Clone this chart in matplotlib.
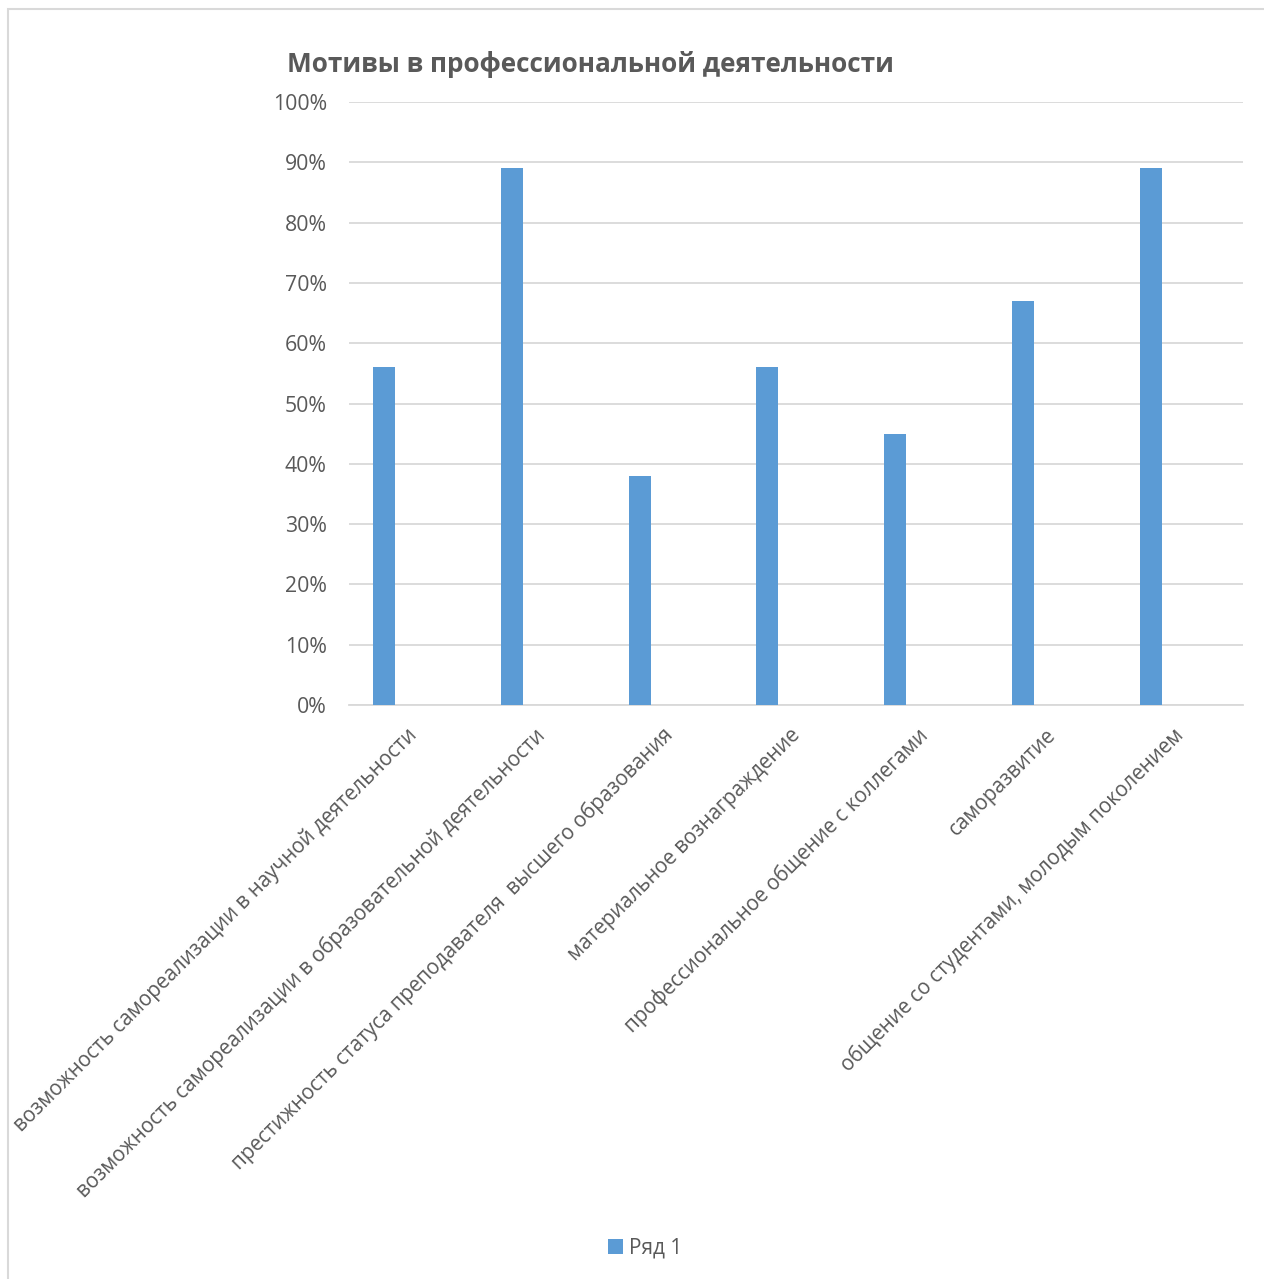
import numpy as np
import matplotlib
matplotlib.use('Agg')
import matplotlib.pyplot as plt
import matplotlib.transforms as mtransforms
from matplotlib.patches import Rectangle
from matplotlib.ticker import PercentFormatter

# data
categories = [
    'возможность самореализации в научной деятельности',
    'возможность самореализации в образовательной деятельности',
    'престижность статуса преподавателя  высшего образования',
    'материальное вознаграждение',
    'профессиональное общение с коллегами',
    'саморазвитие',
    'общение со студентами, молодым поколением',
]
values = [0.56, 0.89, 0.38, 0.56, 0.45, 0.67, 0.89]
series_name = 'Ряд 1'
title = 'Мотивы в профессиональной деятельности'

plt.rcParams['font.family'] = ['Open Sans', 'DejaVu Sans']
txt_color = '#595959'
grid_color = '#d9d9d9'
bar_color = '#5b9bd5'

W, H = 1264, 1279
fig = plt.figure(figsize=(W / 100, H / 100), dpi=100)

# light border of the chart area (left and top edges visible)
fig.patches.append(Rectangle((8 / W, -0.01), 1.02, 1 - 9 / H + 0.01, transform=fig.transFigure,
                             fill=False, edgecolor=grid_color, linewidth=1.5))

ax = fig.add_axes([349 / W, 1 - 705 / H, (1243 - 349) / W, (705 - 102) / H])
x = np.arange(len(categories))
ax.bar(x, values, width=0.172, color=bar_color, label=series_name, zorder=3)

ax.set_ylim(0, 1)
ax.set_xlim(-0.276, 6.724)
ax.set_yticks(np.arange(0, 1.01, 0.1))
ax.yaxis.set_major_formatter(PercentFormatter(1.0, decimals=0))
ax.grid(axis='y', color=grid_color, linewidth=1.3, zorder=0)
for s in ['top', 'right', 'left']:
    ax.spines[s].set_visible(False)
ax.spines['bottom'].set_color(grid_color)
ax.spines['bottom'].set_linewidth(1.3)
ax.tick_params(axis='y', length=0, pad=16, labelsize=15.3, labelcolor=txt_color)
ax.tick_params(axis='x', length=0, labelsize=14.9, labelcolor=txt_color)

ax.set_xticks(x)
ax.set_xticklabels(categories, rotation=45, ha='right', va='center', rotation_mode='anchor')
offset = mtransforms.ScaledTranslation(21.5 / 72, -16 / 72, fig.dpi_scale_trans)
for lab in ax.get_xticklabels():
    lab.set_transform(lab.get_transform() + offset)

fig.text(287 / W, 1 - 65 / H, title, fontsize=18.8, fontweight='bold', color=txt_color,
         ha='left', va='center')

fig.legend(loc='center', bbox_to_anchor=(645 / W, 1 - 1248 / H), frameon=False,
           fontsize=15, labelcolor=txt_color, handlelength=0.7, handleheight=0.7,
           handletextpad=0.3)

fig.savefig('out.png', dpi=100)
